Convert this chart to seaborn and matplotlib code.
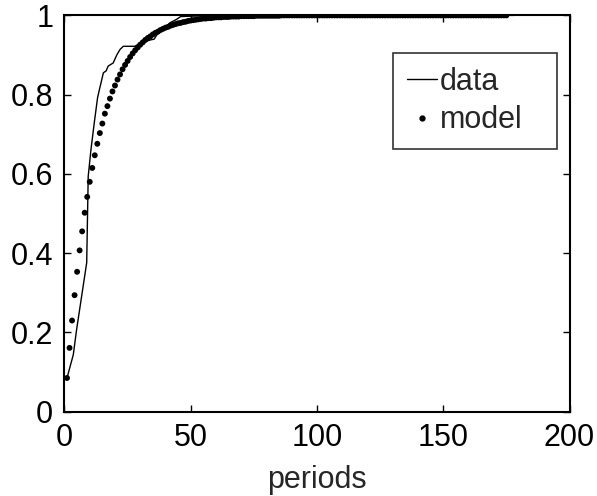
import matplotlib
matplotlib.use("Agg")
import matplotlib.pyplot as plt
import seaborn as sns
import pandas as pd
from matplotlib.lines import Line2D

# ---- data ----
data_x = [1, 3.5, 4.8, 8.8, 9.4, 10.5, 11.8, 13.1, 13.7, 15.4, 16.5, 17.3, 19.3,
          20.7, 22, 23.3, 27.9, 30, 32.5, 34, 35.5, 36.5, 38, 40, 41.7, 44.4, 46,
          60, 100, 178]
data_y = [0.085, 0.144, 0.207, 0.376, 0.594, 0.662, 0.729, 0.792, 0.809, 0.855,
          0.860, 0.872, 0.880, 0.900, 0.914, 0.922, 0.922, 0.930, 0.935, 0.938,
          0.940, 0.950, 0.960, 0.970, 0.981, 0.990, 0.997, 1.0, 1.0, 1.0]

model_y = ([0.085, 0.161, 0.230, 0.294, 0.353, 0.407, 0.455, 0.502, 0.542, 0.580,
            0.615, 0.647, 0.676, 0.703, 0.727, 0.752, 0.771, 0.790, 0.808, 0.823,
            0.838, 0.851, 0.864, 0.875, 0.885, 0.895, 0.904, 0.912, 0.919, 0.926,
            0.932, 0.938, 0.943, 0.947, 0.952, 0.956, 0.959, 0.963, 0.966, 0.969,
            0.971, 0.974, 0.976, 0.978, 0.980, 0.981, 0.983, 0.984, 0.986, 0.987,
            0.988, 0.989, 0.990, 0.991, 0.992, 0.992, 0.993, 0.993, 0.994, 0.995,
            0.995, 0.995, 0.996, 0.996, 0.996, 0.997, 0.997, 0.997, 0.997, 0.998,
            0.998, 0.998, 0.998, 0.998, 0.998,
            0.999, 0.999, 0.999, 0.999, 0.999, 0.999, 0.999, 0.999, 0.999, 0.999]
           + [1.0] * 90)
model_x = list(range(1, len(model_y) + 1))

x_ticks = [0, 50, 100, 150, 200]
y_ticks = [0, 0.2, 0.4, 0.6, 0.8, 1]
y_tick_labels = ["0", "0.2", "0.4", "0.6", "0.8", "1"]
x_label = "periods"

# ---- plotting ----
sns.set_theme(style="white")
plt.rcParams["font.family"] = ["Liberation Sans", "DejaVu Sans"]

FS = 22
fig = plt.figure(figsize=(5.97, 4.96), dpi=100)
ax = fig.add_axes([0.108, 0.170, 0.846, 0.799])

df_data = pd.DataFrame({"x": data_x, "y": data_y})
df_model = pd.DataFrame({"x": model_x, "y": model_y})

sns.lineplot(data=df_data, x="x", y="y", ax=ax, color="black", linewidth=1.0,
             sort=False, estimator=None)
sns.scatterplot(data=df_model, x="x", y="y", ax=ax, color="black", s=18,
                edgecolor="none", zorder=3)

ax.set_xlim(0, 200)
ax.set_ylim(0, 1)
ax.set_xticks(x_ticks)
ax.set_xticklabels([str(t) for t in x_ticks])
ax.set_yticks(y_ticks)
ax.set_yticklabels(y_tick_labels)
ax.set_xlabel(x_label, fontsize=FS, labelpad=9)
ax.set_ylabel("")

ax.tick_params(axis="both", which="major", direction="in", length=5, width=1,
               labelsize=FS, colors="black", top=True, right=True,
               bottom=True, left=True)
ax.tick_params(axis="x", pad=8)
ax.tick_params(axis="y", pad=8)
for sp in ax.spines.values():
    sp.set_color("black")
    sp.set_linewidth(1.5)

handles = [Line2D([0], [0], color="black", linewidth=1.0),
           Line2D([0], [0], color="black", linestyle="none", marker="o",
                  markersize=3.5)]
leg = ax.legend(handles, ["data", "model"], loc="upper left",
                bbox_to_anchor=(0.650, 0.655, 0.325, 0.25), mode="expand",
                fontsize=FS, frameon=True, fancybox=False, handlelength=1.0,
                handletextpad=0.1, borderpad=0.45, labelspacing=0.28,
                borderaxespad=0)
leg.get_frame().set_edgecolor("black")
leg.get_frame().set_linewidth(1.2)

fig.savefig("out.png", dpi=100, facecolor="white")
